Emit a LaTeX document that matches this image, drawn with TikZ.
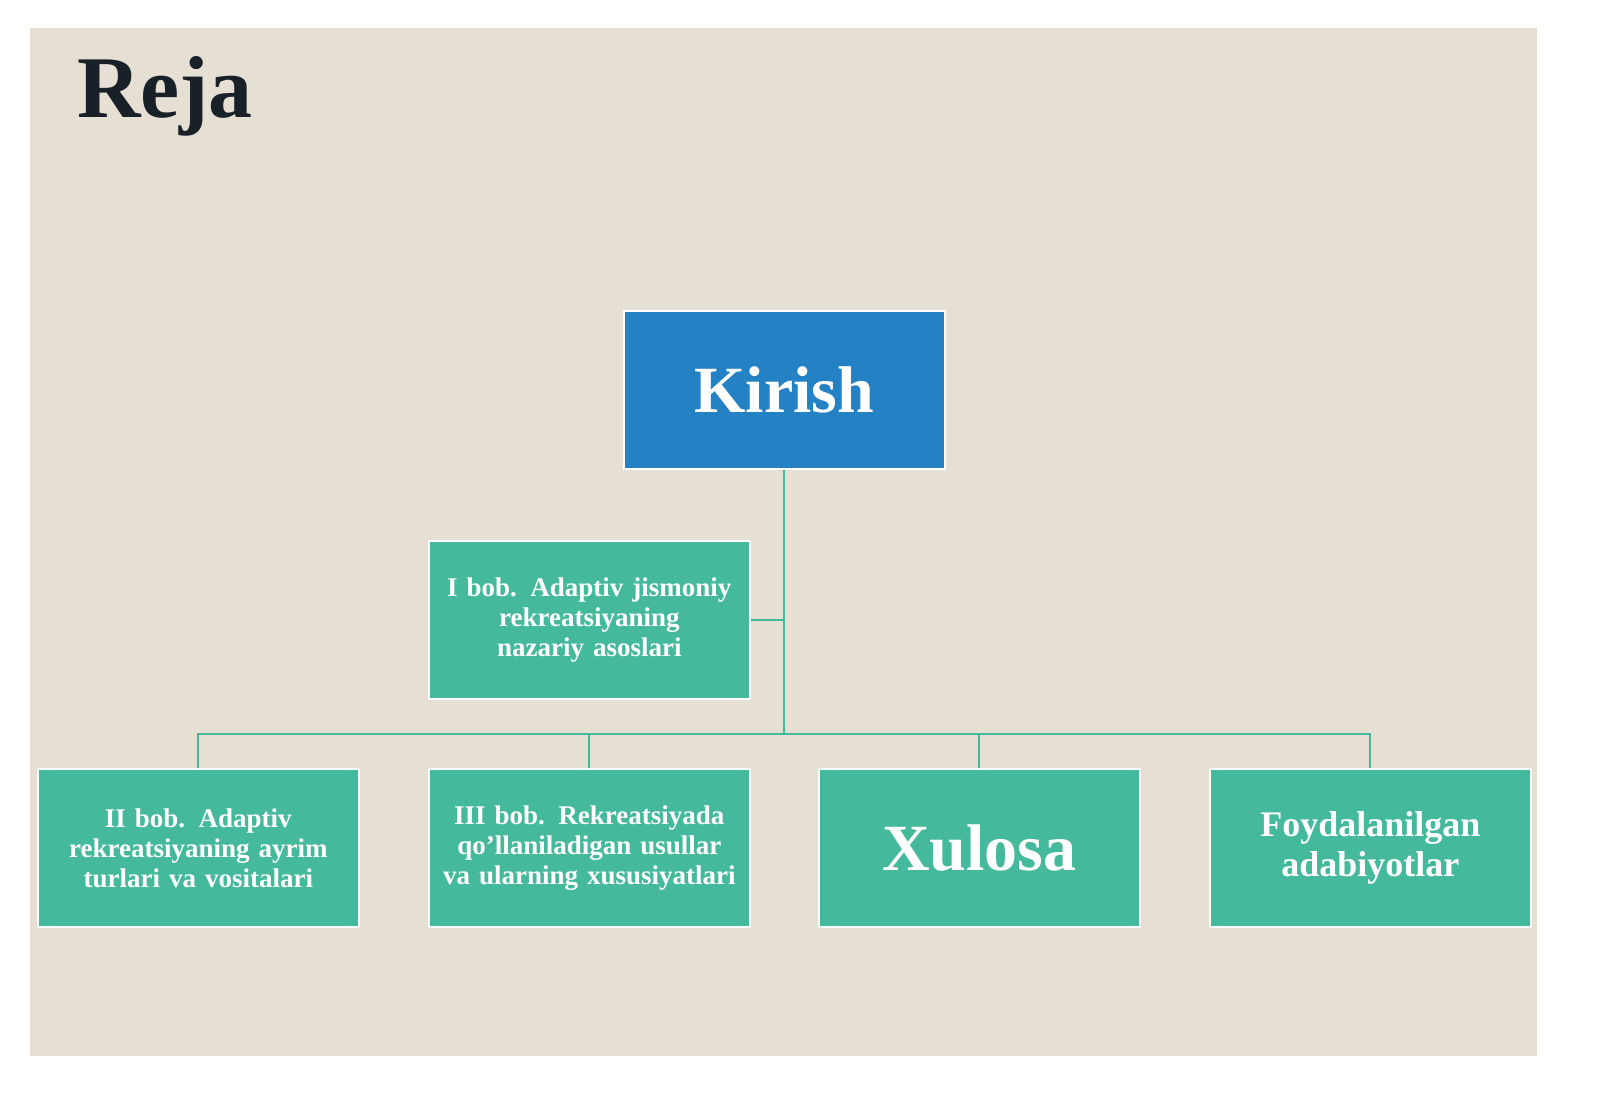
\documentclass[tikz,border=0pt]{standalone}
\usepackage{fontspec}
\setmainfont{Liberation Serif}
\definecolor{bgpaper}{RGB}{229,224,211}
\definecolor{boxblue}{RGB}{36,129,195}
\definecolor{boxgreen}{RGB}{69,185,155}
\definecolor{titleink}{RGB}{24,32,40}
\hyphenpenalty=10000
\exhyphenpenalty=10000
\begin{document}
\begin{tikzpicture}[x=0.5pt,y=-0.5pt,
  box/.style={draw=white,line width=0.8pt,fill=boxgreen,text=white,font=\bfseries,
    minimum width=160.5pt,minimum height=79pt,align=center,inner sep=2pt,anchor=north west},
  small/.style={font=\bfseries\fontsize{13.5}{15}\selectfont,text width=156pt},
  link/.style={draw=boxgreen,line width=0.9pt}]
\useasboundingbox (0,0) rectangle (1600,1107);
%background
\fill[white] (0,0) rectangle (1600,1107);
\fill[bgpaper] (30,28) rectangle (1537,1056);
%title
\node[anchor=west,text=titleink,font=\bfseries\fontsize{44}{48}\selectfont] (title) at (70,96) {Reja};
%boxes
\node[box,fill=boxblue,font=\bfseries\fontsize{33}{36}\selectfont] (kirish) at (623,310) {Kirish};
\node[box,small] (bob1) at (428,540) {I bob. Adaptiv jismoniy rekreatsiyaning nazariy asoslari};
\node[box,small] (bob2) at (37,768) {II bob. Adaptiv rekreatsiyaning ayrim turlari va vositalari};
\node[box,small] (bob3) at (428,768) {III bob. Rekreatsiyada qo’llaniladigan usullar va ularning xususiyatlari};
\node[box,font=\bfseries\fontsize{33}{36}\selectfont] (xulosa) at (818,768) {Xulosa};
\node[box,font=\bfseries\fontsize{18}{20}\selectfont,text width=150pt] (adab) at (1209,768) {Foydalanilgan adabiyotlar};
%connectors
\coordinate (hub) at (kirish.south |- 0,734);
\draw[link] (kirish.south) -- (hub);
\draw[link] (bob1.east) -- (kirish.south |- bob1.east);
\draw[link] (bob2.north) |- (hub) -| (adab.north);
\draw[link] (bob3.north) -- (bob3.north |- hub);
\draw[link] (xulosa.north) -- (xulosa.north |- hub);
\end{tikzpicture}
\end{document}
